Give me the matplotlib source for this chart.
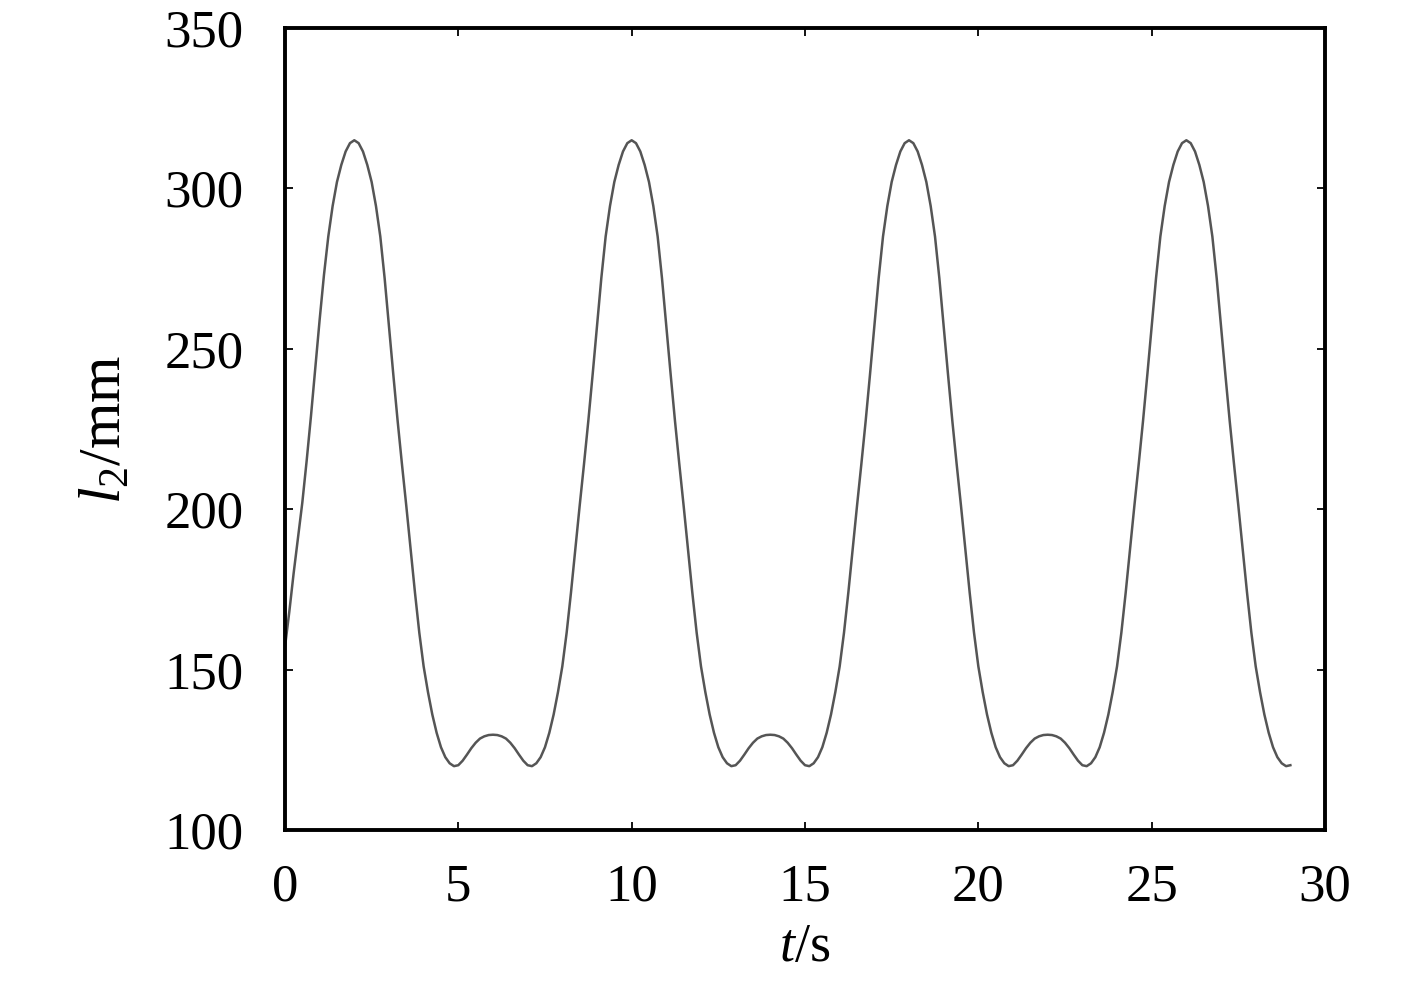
import numpy as np
import matplotlib
matplotlib.use("Agg")
import matplotlib.pyplot as plt

plt.rcParams["font.family"] = ["Liberation Serif", "DejaVu Serif"]
plt.rcParams["mathtext.fontset"] = "custom"
plt.rcParams["mathtext.rm"] = "Liberation Serif"
plt.rcParams["mathtext.it"] = "Liberation Serif:italic"

# time samples (s), every 0.125 s from 0 to 29
t = np.arange(0, 29.0625, 0.125)

# l2 (mm)
l2 = [
    # 0 - 2 s
    157, 168, 180, 191, 202, 215, 229, 244, 259, 273, 285, 294.5, 302, 307.3, 311.5, 314.1, 315,
    # 2 - 6 s
    314.1, 311.5, 307.3, 302, 294.5, 285, 272, 257, 242, 227.5, 214, 201, 187.5, 174, 161.5, 151,
    143, 136, 130.3, 125.8, 122.7, 120.8, 119.9, 120.2, 121.6, 123.5, 125.5, 127.2, 128.5, 129.2, 129.6, 129.7,
    # 6 - 10 s
    129.6, 129.2, 128.5, 127.2, 125.5, 123.5, 121.6, 120.2, 119.9, 120.8, 122.7, 125.8, 130.3, 136, 143, 151,
    161.5, 174, 187.5, 201, 214, 227.5, 242, 257, 272, 285, 294.5, 302, 307.3, 311.5, 314.1, 315,
    # 10 - 14 s
    314.1, 311.5, 307.3, 302, 294.5, 285, 272, 257, 242, 227.5, 214, 201, 187.5, 174, 161.5, 151,
    143, 136, 130.3, 125.8, 122.7, 120.8, 119.9, 120.2, 121.6, 123.5, 125.5, 127.2, 128.5, 129.2, 129.6, 129.7,
    # 14 - 18 s
    129.6, 129.2, 128.5, 127.2, 125.5, 123.5, 121.6, 120.2, 119.9, 120.8, 122.7, 125.8, 130.3, 136, 143, 151,
    161.5, 174, 187.5, 201, 214, 227.5, 242, 257, 272, 285, 294.5, 302, 307.3, 311.5, 314.1, 315,
    # 18 - 22 s
    314.1, 311.5, 307.3, 302, 294.5, 285, 272, 257, 242, 227.5, 214, 201, 187.5, 174, 161.5, 151,
    143, 136, 130.3, 125.8, 122.7, 120.8, 119.9, 120.2, 121.6, 123.5, 125.5, 127.2, 128.5, 129.2, 129.6, 129.7,
    # 22 - 26 s
    129.6, 129.2, 128.5, 127.2, 125.5, 123.5, 121.6, 120.2, 119.9, 120.8, 122.7, 125.8, 130.3, 136, 143, 151,
    161.5, 174, 187.5, 201, 214, 227.5, 242, 257, 272, 285, 294.5, 302, 307.3, 311.5, 314.1, 315,
    # 26 - 29 s
    314.1, 311.5, 307.3, 302, 294.5, 285, 272, 257, 242, 227.5, 214, 201, 187.5, 174, 161.5, 151,
    143, 136, 130.3, 125.8, 122.7, 120.8, 119.9, 120.2,
]

xticks = [0, 5, 10, 15, 20, 25, 30]
yticks = [100, 150, 200, 250, 300, 350]

fig = plt.figure(figsize=(14.17, 9.92), dpi=100)
ax = fig.add_axes([0.2011, 0.1633, 0.734, 0.8085])

ax.plot(t, l2, color="#555555", lw=1.8)

ax.set_xlim(0, 30)
ax.set_ylim(100, 350)
ax.set_xticks(xticks)
ax.set_yticks(yticks)

for s in ax.spines.values():
    s.set_linewidth(2.8)

ax.tick_params(direction="in", length=6, width=1.3, labelsize=38,
               top=True, right=True)
ax.tick_params(axis="x", pad=24)
ax.tick_params(axis="y", pad=30)

ax.set_xlabel(r"$t$/s", fontsize=39, labelpad=8)
ax.set_ylabel(r"$l_2$/mm", fontsize=43, labelpad=22)

fig.savefig("out.png", dpi=100)
